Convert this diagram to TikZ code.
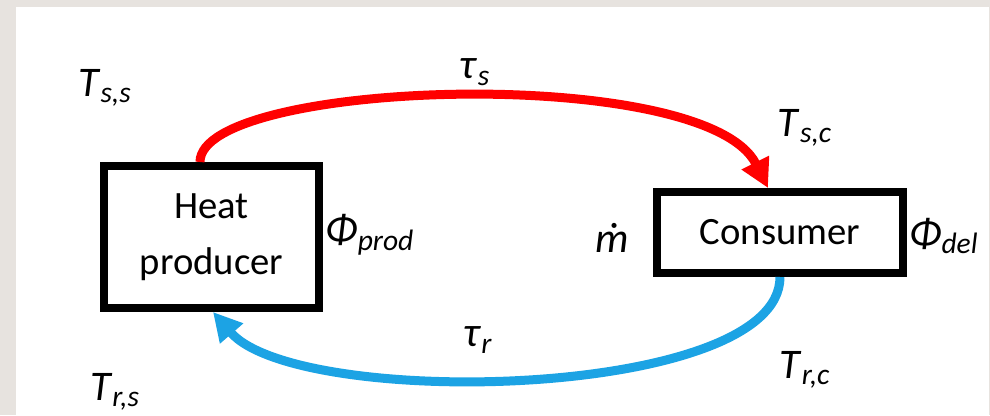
\documentclass[tikz,border=0pt]{standalone}
\usepackage{fontspec}
\setmainfont{Carlito}
\usetikzlibrary{arrows.meta}

\definecolor{framegray}{RGB}{231,227,223}
\definecolor{supplyred}{RGB}{255,0,0}
\definecolor{returnblue}{RGB}{28,163,228}

\newcommand{\symb}[2]{\textit{#1}\textsubscript{\textit{#2}}}

\begin{document}
\begin{tikzpicture}[
    box/.style={
        rectangle,
        draw=black,
        line width=0.16cm,
        align=center,
        inner sep=0pt,
        font=\fontsize{22}{32}\selectfont
    },
    varlabel/.style={
        inner sep=0pt,
        font=\fontsize{24}{28}\selectfont
    },
    pipe/.style={
        line width=0.18cm,
        -{Triangle[length=0.57cm,width=0.58cm]}
    }
]

    % --- Frame ---
    \fill[framegray] (0,0) rectangle (19.8,8.3);
    \fill[white] (0.32,0) rectangle (19.78,8.16);
    \useasboundingbox (0,0) rectangle (19.8,8.3);

    % --- Nodes ---
    \node [box, minimum width=4.3cm, minimum height=2.84cm] (producer) at (4.23,3.56)
        {Heat\\producer};
    \node [box, minimum width=4.92cm, minimum height=1.62cm] (consumer) at (15.6,3.65)
        {Consumer};

    % --- Labels ---
    \node [varlabel] (tss) at (2.10,6.54) {\symb{T}{s,s}};
    \node [varlabel] (taus) at (9.50,6.86) {\symb{τ}{s}};
    \node [varlabel] (tsc) at (16.10,5.74) {\symb{T}{s,c}};
    \node [varlabel] (phiprod) at (7.40,3.60) {\symb{Φ}{prod}};
    \node [varlabel] (mdot) at (12.24,3.54) {\textit{\accent"02D9 m}};
    \node [varlabel] (phidel) at (18.88,3.58) {\symb{Φ}{del}};
    \node [varlabel] (taur) at (9.56,1.50) {\symb{τ}{r}};
    \node [varlabel] (trc) at (16.10,0.90) {\symb{T}{r,c}};
    \node [varlabel] (trs) at (2.30,0.46) {\symb{T}{r,s}};

    % --- Flow lines ---
    \draw [pipe, supplyred] ([xshift=-0.23cm]producer.north)
        .. controls +(0,1.65) and +(-1.25,2.5) .. ([xshift=-0.24cm]consumer.north);
    \draw [pipe, returnblue] (consumer.south)
        .. controls +(0,-2.46) and +(1.7,-1.96) .. ([xshift=0.03cm]producer.south);

\end{tikzpicture}
\end{document}
